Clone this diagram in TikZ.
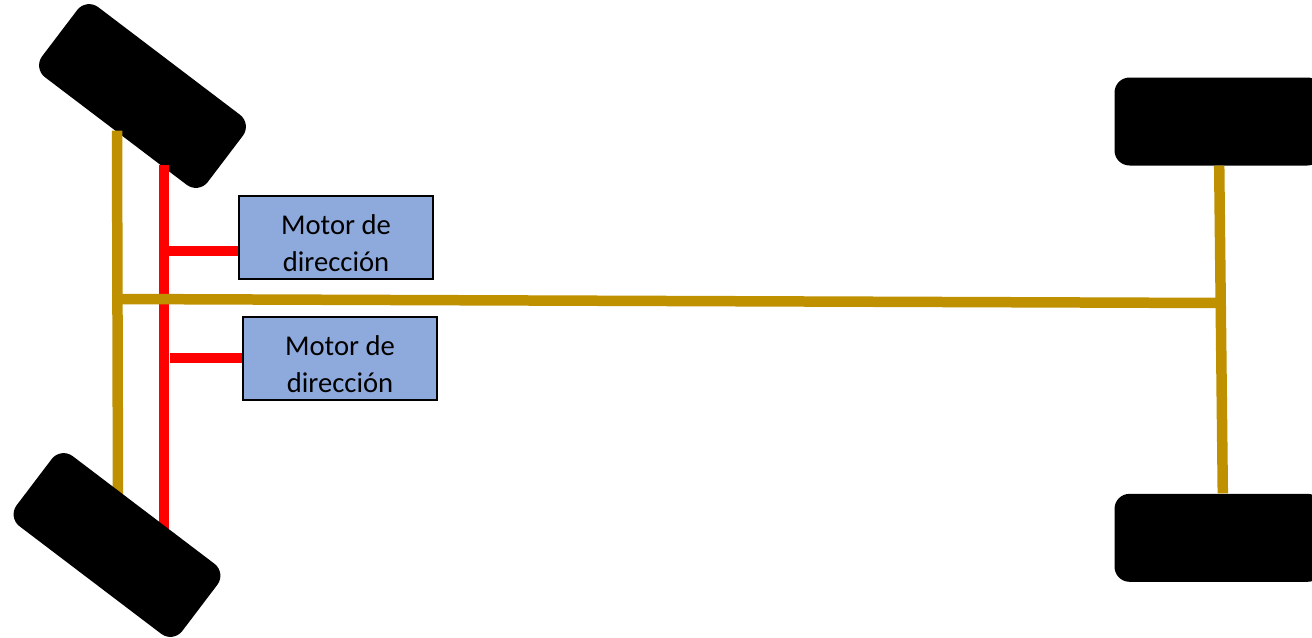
\documentclass[tikz,border=0pt]{standalone}
\usepackage{fontspec}
\setmainfont{Carlito}
\usepackage{xcolor}
\definecolor{axleGold}{HTML}{BF9000}
\definecolor{motorBlue}{HTML}{8EA9DB}
\tikzset{
wheel/.style = {rectangle, fill=black, rounded corners=0.3cm, inner sep=0pt,
                minimum width=4.16cm, minimum height=1.76cm, rotate=#1},
wheel/.default = 0
}
\tikzset{
motor/.style = {rectangle, draw=black, fill=motorBlue, line width=0.04cm, inner sep=0pt,
                minimum width=3.9cm, minimum height=1.66cm, align=center,
                font=\fontsize{16.3}{21.4}\selectfont}
}
\tikzset{
axle/.style = {draw=axleGold, line width=0.21cm},
link/.style = {draw=red, line width=0.21cm}
}
\newcommand{\motorLabel}{\rule{0pt}{0.65cm}Motor de\\dirección}

\begin{document}
\begin{tikzpicture}[x=0.02cm, y=-0.02cm]
\clip (0,0) rectangle (1312,637);

\node[wheel=-37.2] (wheelFrontTop) at (142.5,96) {};
\node[wheel] (wheelRearTop) at (1218.5,121.5) {};
\node[wheel] (wheelRearBottom) at (1218.5,537.8) {};

\coordinate (frontAxleTop) at (117,130.7);
\coordinate (frontAxleBottom) at (118,500);
\coordinate (spineFront) at (117.5,299);
\coordinate (spineRear) at (1220.8,303);
\coordinate (rearAxleTop) at (1219.2,165.7);
\coordinate (rearAxleBottom) at (1222.8,493.3);
\coordinate (linkTop) at (164,164.5);
\coordinate (linkBottom) at (164,535);
\coordinate (linkUpper) at (164,251);
\coordinate (linkLower) at (170,358);

\draw[link] (linkTop) -- (linkBottom);
\draw[axle] (frontAxleTop) -- (frontAxleBottom);
\draw[axle] (spineFront) -- (spineRear);
\draw[axle] (rearAxleTop) -- (rearAxleBottom);

\node[motor] (motorUpper) at (336,237) {\motorLabel};
\node[motor] (motorLower) at (340,358) {\motorLabel};
\coordinate (motorUpperIn) at (motorUpper.west |- linkUpper);

\draw[link] (linkUpper) -- (motorUpperIn);
\draw[link] (linkLower) -- (motorLower);

\node[wheel=-37.2] (wheelFrontBottom) at (117,545) {};
\end{tikzpicture}
\end{document}
